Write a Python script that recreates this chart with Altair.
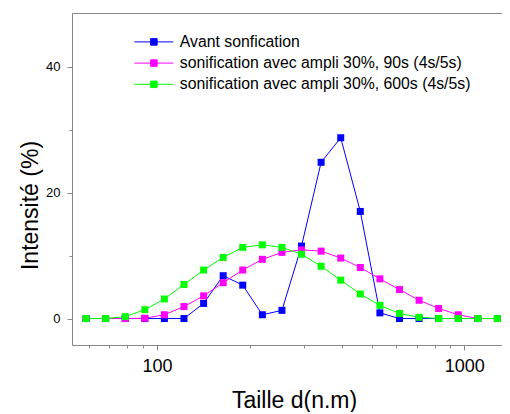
import altair as alt
import pandas as pd

# Particle size bins (nm)
sizes = [58.77, 68.06, 78.82, 91.28, 105.7, 122.4, 141.8, 164.2, 190.1, 220.2, 255.0,
         295.3, 342.0, 396.1, 458.7, 531.2, 615.1, 712.4, 825.0, 955.4, 1106, 1281]

avant = [0, 0, 0, 0, 0, 0, 2.4, 6.8, 5.3, 0.6, 1.3, 11.5, 24.8, 28.7, 17.0, 0.9, 0, 0, 0, 0, 0, 0]
s90 = [0, 0, 0, 0.05, 0.6, 1.9, 3.6, 5.7, 7.7, 9.4, 10.5, 10.9, 10.7, 9.6, 8.1, 6.3, 4.6, 2.9, 1.6, 0.6, 0, 0]
s600 = [0, 0, 0.3, 1.4, 3.1, 5.4, 7.7, 9.7, 11.3, 11.7, 11.3, 10.2, 8.3, 6.1, 3.9, 2.1, 0.8, 0.2, 0, 0, 0, 0]

series_names = ["Avant sonfication",
                "sonification avec ampli 30%, 90s (4s/5s)",
                "sonification avec ampli 30%, 600s (4s/5s)"]
series_colors = ["#0000ff", "#ff00ff", "#00ff00"]

x_ticks = [60, 70, 80, 90, 100, 200, 300, 400, 500, 600, 700, 800, 900, 1000]
y_ticks = [0, 10, 20, 30, 40]

rows = []
for name, vals in zip(series_names, [avant, s90, s600]):
    for s, v in zip(sizes, vals):
        rows.append({"size": s, "value": v, "series": name})
df = pd.DataFrame(rows)

FONT = "Liberation Sans"

xscale = alt.Scale(type="log", domain=[52.9, 1326], nice=False)
yscale = alt.Scale(domain=[-4.2, 48.5], nice=False, zero=False)

x_major = "datum.value === 100 || datum.value === 1000"
x_axis = alt.Axis(
    values=x_ticks, format="d", labelExpr=f"({x_major}) ? datum.label : ''",
    tickSize={"condition": {"test": x_major, "value": 5}, "value": 3},
    labelFontSize=18, labelPadding=7, labelOverlap=False, labelFlush=False,
    title="Taille d(n.m)", titleFontSize=23, titleFontWeight="normal",
    titleBaseline="alphabetic", titleAlign="center", titleX=222, titleY=62,
    grid=False,
)
y_axis = alt.Axis(
    values=y_ticks, labelExpr="datum.value % 20 === 0 ? datum.label : ''",
    tickSize={"condition": {"test": "datum.value % 20 === 0", "value": 5}, "value": 3},
    labelFontSize=13, labelPadding=7, labelOverlap=False, labelFlush=False,
    title="Intensité (%)", titleFontSize=23, titleFontWeight="normal",
    titleAngle=-90, titleBaseline="alphabetic", titleAlign="center",
    titleX=-35, titleY=192,
    grid=False,
)

color = alt.Color(
    "series:N",
    scale=alt.Scale(domain=series_names, range=series_colors),
    legend=alt.Legend(
        title=None, orient="none", legendX=50, legendY=21, padding=0,
        symbolType="M-3,0H3M-0.5,-0.5H0.5V0.5H-0.5Z", symbolSize=169,
        symbolStrokeWidth=1, symbolOffset=24, labelOffset=18,
        labelFont=FONT, labelFontSize=15.8, labelColor="black",
        rowPadding=4.2, labelLimit=400,
    ),
)

lines = alt.Chart(df).mark_line(strokeWidth=1).encode(
    x=alt.X("size:Q", scale=xscale, axis=x_axis),
    y=alt.Y("value:Q", scale=yscale, axis=y_axis),
    color=color,
    detail="series:N",
)

points = alt.Chart(df).mark_point(shape="square", filled=True, size=49, opacity=1).encode(
    x=alt.X("size:Q", scale=xscale,
            axis=alt.Axis(orient="top", labels=False, ticks=False, title=None, grid=False)),
    y=alt.Y("value:Q", scale=yscale),
    color=color,
)

chart = alt.layer(lines, points).resolve_axis(x="independent").properties(
    width=430, height=332,
    autosize=alt.AutoSizeParams(type="none"),
    padding={"left": 64, "top": 5, "right": 0, "bottom": 67},
).configure_view(stroke=None).configure_axis(
    domainColor="black", tickColor="black", labelColor="black", titleColor="black",
    labelFont=FONT, titleFont=FONT, domainWidth=1, tickWidth=1,
).configure(background="white")

chart.save("out.html", embed_options={"renderer": "svg", "actions": False})
